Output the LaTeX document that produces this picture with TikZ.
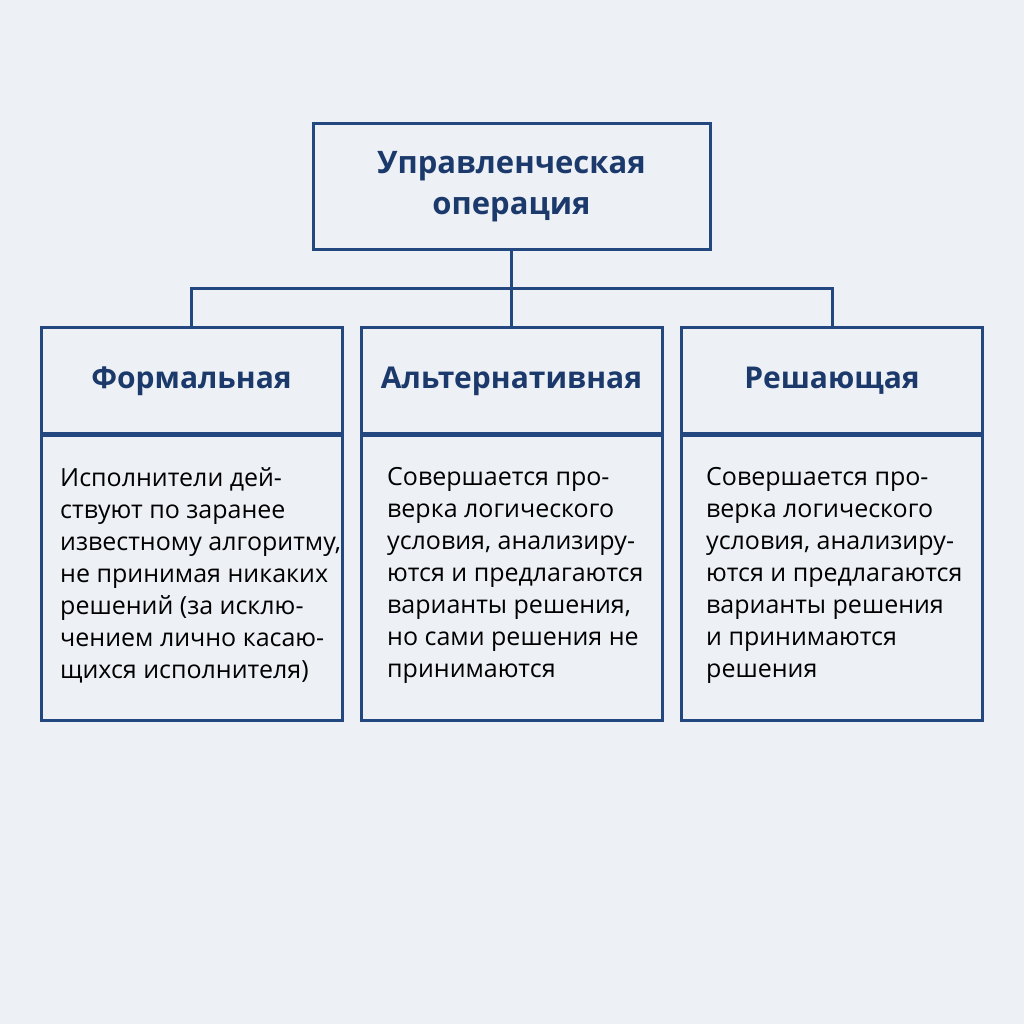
\documentclass[tikz,border=0pt]{standalone}
\usepackage{fontspec}
\setmainfont{Open Sans}
\definecolor{bgcol}{HTML}{EDF0F5}
\definecolor{linecol}{HTML}{22487F}
\definecolor{headcol}{HTML}{1B3A6B}
\tikzset{
  box/.style={draw=linecol, line width=3pt, inner sep=0pt},
  headbox/.style={box, minimum width=301pt, minimum height=108pt, font=\bfseries\fontsize{30}{36}\selectfont, text=headcol},
  bodybox/.style={box, minimum width=301pt, minimum height=287pt},
  bodytext/.style={anchor=north west, align=left, inner sep=0pt, font=\fontsize{25}{32}\selectfont, text=black},
}
\begin{document}
\begin{tikzpicture}[x=1pt, y=-1pt]
      \useasboundingbox[fill=bgcol] (0,0) rectangle (1024,1024);
      \draw
        (511.5,186.5) node[box, minimum width=397pt, minimum height=125pt, align=center,
          font=\bfseries\fontsize{31}{41}\selectfont, text=headcol] (top){Управленческая\\операция}
        (191.5,381) node[headbox] (formal){Формальная}
        (511.5,381) node[headbox] (alt){Альтернативная}
        (832,381) node[headbox] (decide){Решающая}
        (191.5,576.5) node[bodybox] (formalbody){}
        (511.5,576.5) node[bodybox] (altbody){}
        (832,576.5) node[bodybox] (decidebody){};
      \coordinate (bus) at (511.5,288);
      \node[bodytext] (formaltext) at (60,467) {Исполнители дей-\\ствуют по заранее\\известному алгоритму,\\не принимая никаких\\решений (за исклю-\\чением лично касаю-\\щихся исполнителя)};
      \node[bodytext] (alttext) at (387,467) {Совершается про-\\верка логического\\условия, анализиру-\\ются и предлагаются\\варианты решения,\\но сами решения не\\принимаются};
      \node[bodytext] (decidetext) at (706,467) {Совершается про-\\верка логического\\условия, анализиру-\\ются и предлагаются\\варианты решения\\и принимаются\\решения};
      \begin{scope}[draw=linecol, line width=3pt]
        \draw (top) to (bus);
        \draw (bus) to (alt);
        \draw (formal.north) |- (bus) -| (decide.north);
      \end{scope}
    \end{tikzpicture}
\end{document}
